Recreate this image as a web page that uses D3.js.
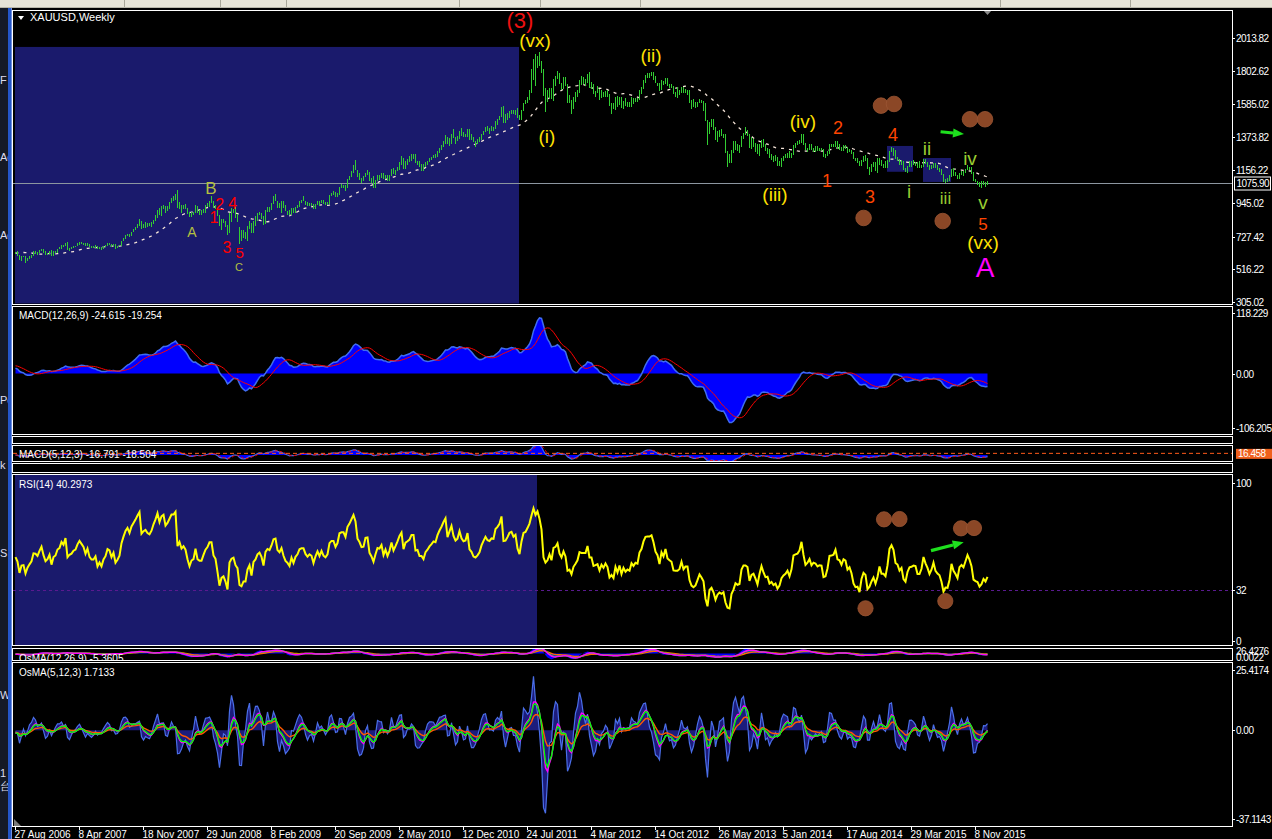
<!DOCTYPE html>
<html><head><meta charset="utf-8">
<script src="https://cdn.jsdelivr.net/npm/d3@7"></script>
<style>
html,body{margin:0;padding:0;background:#000;overflow:hidden}
svg{display:block}
text{font-family:"Liberation Sans",Arial,sans-serif}
</style></head><body>
<svg id="c" width="1272" height="839"></svg>
<script>
// ---------------- DATA ----------------
// weekly closes before the first visible bar (Jan–Aug 2006), used only for indicator warm-up
const priorCloses = [540,550,558,568,566,553,552,555,563,545,555,560,582,590,598,622,637,676,715,660,652,640,625,571,582,614,629,667,640,630,640,628,618,618];
// weekly bars [low, high, close], first bar = week of 27 Aug 2006
const bars2006 = [[616,630,624],[605,632,612],[575,612,578],[572,603,598],[595,605,599],[560,600,573],[568,592,588],[585,605,597],[590,610,605],[605,632,628],[615,632,627],[612,630,622],[620,640,636],[635,650,648],[625,650,630],[612,632,616],[612,625,621],[618,636,632]];
const bars2007 = [[605,640,609],[603,632,628],[620,635,632],[625,650,648],[645,660,652],[650,672,670],[660,675,665],[665,690,685],[640,692,645],[635,655,652],
[645,660,655],[655,670,663],[660,670,666],[665,685,680],[675,695,690],[680,695,685],[675,690,680],[665,685,668],[665,685,680],[660,680,665],
[655,670,660],[655,668,660],[655,672,666],[645,668,648],[645,660,655],[640,658,648],[648,665,660],[660,672,666],[665,685,680],[675,690,678],
[660,678,668],[665,680,676],[645,680,660],[655,670,665],[668,675,672],[670,700,698],[700,720,715],[710,740,732],[730,745,742],[725,745,735],
[730,760,757],[755,775,770],[768,790,785],[785,812,805],[800,845,825],[780,830,790],[785,810,800],[785,820,805],[790,815,800],[795,815,798],
[792,820,810],[810,835,835],[830,870,858]];
const bars2008 = [[850,900,895],[870,915,880],[860,925,915],[905,930,925],[880,925,905],[895,925,920],[905,955,945],[945,975,975],[960,990,975],[965,1003,995],
[915,1032,915],[905,950,935],[880,935,915],[905,935,925],[905,940,915],[875,915,885],[855,890,860],[855,885,880],[870,890,885],[880,935,925],
[880,925,890],[865,900,885],[870,900,885],[880,910,905],[880,930,925],[920,945,935],[920,960,955],[945,990,955],[915,960,920],[905,935,910],
[860,915,865],[795,865,800],[770,840,825],[815,840,830],[790,830,805],[740,805,760],[750,880,865],[825,915,885],[880,910,890],[850,920,855],
[820,875,840],[681,790,735],[700,770,725],[720,770,745],[710,760,745],[700,800,795],[780,830,815],[750,815,755],[750,830,825],[800,860,840],
[830,880,870],[865,885,880]];
const bars2009 = [[845,880,860],[805,860,815],[810,900,895],[890,920,915],[890,920,910],[900,945,940],[940,990,985],[960,1005,990],[915,960,940],[915,945,930],
[880,960,955],[915,960,920],[895,935,895],[865,895,885],[870,900,870],[865,915,910],[880,915,885],[880,920,915],[915,935,928],[920,960,955],
[945,965,960],[960,990,960],[935,960,940],[925,950,930],[925,945,940],[925,945,935],[905,940,910],[910,940,935],[935,960,955],[925,960,940],
[945,965,960],[940,965,945],[930,955,940],[935,955,950],[940,1000,995],[990,1010,1005],[995,1025,1005],[985,1020,990],[985,1010,1005],[1000,1050,1050],
[1040,1070,1055],[1040,1065,1055],[1025,1065,1045],[1040,1100,1095],[1095,1120,1115],[1115,1150,1145],[1140,1195,1180],[1160,1226,1165],[1115,1160,1120],[1095,1140,1110],
[1075,1110,1095],[1090,1120,1097]];
const bars2010 = [[1115,1140,1138],[1125,1160,1140],[1090,1145,1095],[1075,1110,1083],[1045,1120,1065],[1045,1095,1093],[1085,1125,1120],[1095,1125,1118],[1110,1140,1133],[1100,1140,1103],
[1100,1130,1125],[1085,1130,1105],[1090,1130,1125],[1120,1165,1162],[1135,1170,1137],[1125,1160,1157],[1150,1180,1180],[1160,1212,1210],[1195,1250,1230],[1165,1235,1177],
[1165,1215,1212],[1195,1230,1220],[1210,1250,1229],[1220,1262,1256],[1230,1265,1256],[1205,1262,1208],[1195,1215,1210],[1180,1215,1190],[1155,1200,1190],[1155,1200,1180],
[1180,1210,1205],[1195,1215,1215],[1210,1235,1228],[1225,1245,1237],[1235,1255,1248],[1240,1260,1246],[1245,1280,1275],[1270,1300,1297],[1290,1320,1317],[1310,1350,1345],
[1330,1385,1370],[1325,1375,1325],[1315,1365,1358],[1330,1395,1394],[1365,1424,1366],[1330,1375,1352],[1345,1380,1362],[1360,1410,1406],[1380,1430,1385],[1375,1405,1376],
[1370,1390,1380],[1375,1422,1420]];
const bars2011 = [[1355,1425,1369],[1355,1390,1360],[1340,1375,1343],[1310,1350,1340],[1330,1360,1348],[1340,1370,1360],[1355,1390,1388],[1385,1415,1409],[1405,1440,1429],[1415,1445,1420],
[1395,1430,1418],[1415,1445,1429],[1415,1440,1428],[1425,1475,1474],[1450,1490,1486],[1480,1510,1504],[1505,1570,1556],[1465,1575,1490],[1465,1520,1492],[1480,1530,1511],
[1495,1540,1536],[1525,1550,1542],[1520,1550,1529],[1515,1545,1539],[1495,1560,1501],[1480,1515,1483],[1480,1545,1542],[1540,1595,1594],[1585,1610,1601],[1595,1630,1628],
[1610,1675,1663],[1660,1815,1744],[1740,1880,1852],[1705,1912,1828],[1820,1895,1884],[1835,1921,1856],[1790,1865,1813],[1640,1810,1658],[1532,1690,1620],[1600,1680,1636],
[1625,1690,1682],[1620,1690,1642],[1605,1750,1745],[1700,1765,1755],[1750,1802,1788],[1715,1790,1724],[1680,1725,1696],[1685,1760,1746],[1700,1760,1712],[1595,1715,1598],
[1590,1645,1606],[1525,1615,1565]];
const bars2012 = [[1555,1630,1617],[1600,1665,1640],[1630,1680,1665],[1660,1740,1730],[1710,1765,1725],[1715,1760,1725],[1705,1750,1725],[1720,1780,1776],[1690,1792,1710],[1685,1730,1710],
[1650,1715,1658],[1630,1670,1662],[1655,1700,1668],[1610,1685,1630],[1625,1680,1660],[1630,1665,1642],[1630,1670,1664],[1635,1675,1645],[1575,1650,1580],[1525,1595,1592],
[1555,1595,1572],[1545,1630,1624],[1565,1640,1590],[1580,1630,1626],[1560,1630,1572],[1555,1605,1604],[1575,1625,1580],[1565,1600,1591],[1570,1600,1584],[1570,1630,1620],
[1585,1625,1606],[1600,1625,1621],[1600,1625,1617],[1615,1675,1671],[1650,1695,1691],[1685,1740,1738],[1720,1775,1770],[1755,1785,1772],[1755,1785,1772],[1765,1796,1780],
[1740,1795,1758],[1720,1765,1725],[1700,1725,1712],[1670,1720,1676],[1675,1740,1731],[1710,1735,1714],[1715,1755,1752],[1700,1755,1712],[1690,1715,1704],[1690,1715,1697],
[1650,1700,1657],[1635,1665,1656],[1625,1695,1656]];
const bars2013 = [[1645,1675,1662],[1655,1695,1687],[1655,1695,1658],[1655,1685,1667],[1645,1680,1667],[1595,1680,1610],[1555,1615,1581],[1565,1620,1572],[1560,1600,1577],[1565,1600,1592],
[1590,1620,1608],[1590,1615,1596],[1540,1605,1580],[1475,1590,1477],[1320,1480,1405],[1390,1470,1462],[1440,1490,1470],[1420,1487,1435],[1355,1440,1366],[1340,1415,1385],
[1370,1420,1393],[1380,1425,1383],[1365,1395,1388],[1270,1395,1296],[1180,1285,1234],[1205,1265,1223],[1205,1290,1277],[1270,1345,1295],[1290,1345,1322],[1285,1330,1310],
[1270,1320,1313],[1310,1380,1375],[1360,1400,1395],[1385,1435,1395],[1380,1420,1387],[1305,1390,1308],[1295,1370,1333],[1310,1360,1338],[1275,1335,1310],[1265,1330,1272],
[1250,1325,1315],[1300,1355,1352],[1310,1362,1315],[1280,1330,1286],[1260,1300,1288],[1240,1295,1244],[1225,1265,1250],[1210,1250,1230],[1220,1255,1235],[1185,1245,1203],
[1185,1220,1213],[1180,1240,1238]];
const bars2014 = [[1220,1250,1248],[1235,1260,1254],[1235,1270,1264],[1235,1280,1240],[1240,1270,1263],[1255,1320,1318],[1305,1335,1323],[1320,1345,1326],[1325,1355,1339],[1335,1390,1379],
[1320,1392,1335],[1290,1335,1294],[1275,1305,1303],[1290,1330,1318],[1290,1330,1293],[1275,1305,1303],[1275,1315,1300],[1285,1315,1289],[1285,1305,1293],[1285,1300,1292],
[1245,1295,1250],[1240,1260,1252],[1250,1280,1274],[1260,1325,1316],[1310,1325,1317],[1310,1330,1320],[1310,1345,1337],[1295,1345,1310],[1290,1325,1307],[1280,1310,1294],
[1285,1320,1310],[1295,1320,1306],[1270,1310,1280],[1275,1295,1286],[1260,1290,1268],[1230,1275,1231],[1215,1240,1215],[1205,1240,1216],[1185,1220,1192],[1185,1225,1222],
[1210,1250,1238],[1220,1255,1231],[1165,1235,1171],[1130,1180,1177],[1145,1200,1190],[1180,1210,1200],[1150,1210,1175],[1140,1240,1192],[1190,1240,1222],[1185,1225,1195],
[1170,1200,1195],[1170,1215,1186]];
const bars2015 = [[1170,1225,1216],[1210,1285,1277],[1275,1307,1293],[1250,1300,1279],[1230,1290,1234],[1215,1245,1228],[1195,1230,1204],[1195,1225,1213],[1160,1220,1165],[1145,1170,1152],
[1140,1185,1183],[1180,1220,1199],[1180,1220,1201],[1190,1225,1205],[1185,1210,1203],[1170,1210,1175],[1170,1215,1175],[1170,1195,1189],[1180,1230,1225],[1200,1232,1205],
[1180,1210,1190],[1160,1195,1168],[1165,1190,1180],[1170,1205,1201],[1170,1205,1173],[1160,1190,1163],[1145,1170,1157],[1130,1165,1132],[1080,1135,1085],[1077,1100,1095],
[1080,1105,1094],[1090,1125,1113],[1115,1165,1160],[1120,1170,1134],[1120,1145,1121],[1100,1125,1104],[1100,1140,1138],[1125,1155,1145],[1120,1150,1137],[1140,1165,1156],
[1160,1191,1177],[1160,1180,1163],[1135,1180,1142],[1085,1145,1088],[1080,1100,1081],[1065,1090,1077],[1050,1080,1056],[1046,1090,1062],[1060,1090,1075],[1050,1080,1065],
[1065,1085,1076]];

const timeTickIdx = [0,32,64,96,128,160,192,224,256,288,320,352,384,416,448,480];
const timeTickLabels = ["27 Aug 2006","8 Apr 2007","18 Nov 2007","29 Jun 2008","8 Feb 2009","20 Sep 2009","2 May 2010","12 Dec 2010","24 Jul 2011","4 Mar 2012","14 Oct 2012","26 May 2013","5 Jan 2014","17 Aug 2014","29 Mar 2015","8 Nov 2015"];
const priceTicks = [2013.82,1802.62,1585.02,1373.82,1156.22,945.02,727.42,516.22,305.02];
const priceTickLabels = ["2013.82","1802.62","1585.02","1373.82","1156.22","945.02","727.42","516.22","305.02"];
const lastPrice = 1075.90;
const macdTicks = [118.229, 0, -106.205];
const macdTickLabels = ["118.229","0.00","-106.205"];
const rsiTicks = [100, 32, 0];
const osmaTicks = [25.4174, 0, -37.1143];
const osmaTickLabels = ["25.4174","0.00","-37.1143"];
const macd5Level = 16.458;

// annotations, in data coordinates (week index, price / RSI value)
const waveLabels = [
 {t:"(3)",i:252.5,p:2078,c:"#ee1111",s:22},
 {t:"(vx)",i:260,p:1956,c:"#ffe000",s:19},
 {t:"(i)",i:266,p:1334,c:"#ffe000",s:19},
 {t:"(ii)",i:318,p:1858,c:"#ffe000",s:19},
 {t:"(iii)",i:380,p:959,c:"#ffe000",s:19},
 {t:"(iv)",i:394,p:1431,c:"#ffe000",s:19},
 {t:"(vx)",i:484,p:648,c:"#ffe000",s:19},
 {t:"A",i:485,p:467,c:"#ff00ff",s:28},
 {t:"1",i:406,p:1049,c:"#ff4500",s:18},
 {t:"2",i:411.5,p:1392,c:"#ff4500",s:18},
 {t:"3",i:427.5,p:946,c:"#ff4500",s:18},
 {t:"4",i:439,p:1347,c:"#ff4500",s:18},
 {t:"5",i:484,p:772,c:"#ff4500",s:17},
 {t:"i",i:447,p:978,c:"#9acd32",s:19},
 {t:"ii",i:456,p:1256,c:"#9acd32",s:19},
 {t:"iii",i:465.25,p:939,c:"#9acd32",s:17},
 {t:"iv",i:477.5,p:1192,c:"#9acd32",s:19},
 {t:"v",i:484,p:907,c:"#9acd32",s:19},
 {t:"B",i:98,p:1004,c:"#b4c040",s:17},
 {t:"A",i:88.5,p:726,c:"#b4c040",s:14},
 {t:"C",i:112,p:505,c:"#b4c040",s:11},
 {t:"1",i:99.5,p:816,c:"#ff0000",s:16},
 {t:"2",i:102.3,p:900,c:"#ff0000",s:16},
 {t:"3",i:106,p:622,c:"#ff0000",s:16},
 {t:"4",i:108.8,p:907,c:"#ff0000",s:16},
 {t:"5",i:112.3,p:590,c:"#ff0000",s:15}
];
const mainZones = [{i0:0,i1:252,p0:250,p1:1956},{i0:436,i1:449,p0:1148,p1:1315},{i0:454,i1:468,p0:1082,p1:1237}];
const rsiZones = [{i0:0,i1:261}];
const mainCircles = [{i:433,p:1576},{i:439.5,p:1587},{i:477.5,p:1488},{i:485,p:1488},{i:424.3,p:849},{i:463.85,p:829}];
const rsiCircles = [{i:434.5,v:77.0},{i:442.25,v:77.2},{i:473,v:71.3},{i:479.5,v:71.5},{i:425.25,v:20.7},{i:465.15,v:25.3}];
const mainArrow = {i0:462.8,p0:1407,i1:474.5,p1:1392};
const rsiArrow = {i0:458,v0:57.2,i1:474.35,v1:62.5};

// ---------------- SETUP ----------------
const bars = [].concat(bars2006,bars2007,bars2008,bars2009,bars2010,bars2011,bars2012,bars2013,bars2014,bars2015);
const closes = bars.map(b=>b[2]);
const allC = priorCloses.concat(closes);
const P = priorCloses.length;
const N = bars.length;

function ema(a,n){const k=2/(n+1);const o=[];let p=a[0];a.forEach((v,i)=>{p=i===0?v:v*k+p*(1-k);o.push(p);});return o;}
function sma(a,n){const o=[];for(let i=0;i<a.length;i++){const s0=Math.max(0,i-n+1);let s=0;for(let j=s0;j<=i;j++)s+=a[j];o.push(s/(i-s0+1));}return o;}
function rsi(c,n){const o=new Array(c.length).fill(50);let g=0,l=0;for(let i=1;i<=n;i++){const d=c[i]-c[i-1];if(d>0)g+=d;else l-=d;}g/=n;l/=n;o[n]=100-100/(1+g/l);
 for(let i=n+1;i<c.length;i++){const d=c[i]-c[i-1];g=(g*(n-1)+Math.max(d,0))/n;l=(l*(n-1)+Math.max(-d,0))/n;o[i]=l===0?100:100-100/(1+g/l);}return o;}
function macd(c,f,s,sg){const ef=ema(c,f),es=ema(c,s);const m=ef.map((v,i)=>v-es[i]);const sig=sma(m,sg);return {m,sig,os:m.map((v,i)=>v-sig[i])};}

const ma26 = sma(allC,26).slice(P);
const M1 = macd(allC,12,26,9);
const macdMain = M1.m.slice(P), macdSig = M1.sig.slice(P), osma12 = M1.os.slice(P);
const M2 = macd(allC,5,12,3);
const macd5Main = M2.m.slice(P), macd5Sig = M2.sig.slice(P), osma5 = M2.os.slice(P);
const rsi14 = rsi(allC,14).slice(P);
const os5a = ema(M2.os,6).slice(P), os5b = ema(M2.os,7).slice(P), os5c = ema(M2.os,16).slice(P);
const os12a = ema(M1.os,6).slice(P), os12b = ema(M1.os,7).slice(P), os12c = ema(M1.os,16).slice(P);
const idx = d3.range(N);

const svg = d3.select("#c");
const W=1272,H=839;
svg.append("rect").attr("width",W).attr("height",H).attr("fill","#000");
const defs = svg.append("defs");

const x = d3.scaleLinear().domain([0,608.5]).range([15,1232]);
const yMain = d3.scaleLinear().domain([305.02,2013.82]).range([302,38]);
const yMacd = d3.scaleLinear().domain([-106.205,118.229]).range([428,313]);
const yMacd5 = d3.scaleLinear().domain([-110,110]).range([466,444]);
const yRsi = d3.scaleLinear().domain([0,100]).range([641,483]);
const yOs12 = d3.scaleLinear().domain([-36,26]).range([660,649]);
const yOs5 = d3.scaleLinear().domain([-37.1143,25.4174]).range([818.5,670]);

const panels = [
 {id:"main",top:10.5,bottom:304.5},{id:"macd",top:306.5,bottom:434.5},{id:"e1",top:436.5,bottom:443.5},
 {id:"macd5",top:445.5,bottom:461.5},{id:"e2",top:463.5,bottom:472.5},{id:"rsi",top:474.5,bottom:645.5},
 {id:"os12",top:648.5,bottom:660.5},{id:"os5",top:662.5,bottom:826.5}];
const G = {};
panels.forEach(p=>{
 defs.append("clipPath").attr("id","cl-"+p.id).append("rect").attr("x",13).attr("y",p.top+0.5).attr("width",1219).attr("height",p.bottom-p.top-1);
 G[p.id] = svg.append("g").attr("clip-path",`url(#cl-${p.id})`);
});
const NAVY = "#1a1a6c";

// ---- main panel ----
const gm = G.main;
gm.selectAll("rect.zone").data(mainZones).join("rect").attr("class","zone")
 .attr("x",d=>x(d.i0)).attr("width",d=>x(d.i1)-x(d.i0))
 .attr("y",d=>yMain(d.p1)).attr("height",d=>Math.min(303.5,yMain(d.p0))-yMain(d.p1)).attr("fill",NAVY);
gm.append("line").attr("x1",13).attr("x2",1232).attr("y1",Math.round(yMain(lastPrice))+0.5).attr("y2",Math.round(yMain(lastPrice))+0.5)
 .attr("stroke","#8c96a0").attr("stroke-width",1);
gm.append("path").datum(idx).attr("fill","none").attr("stroke","#f4e4d8").attr("stroke-width",1.3).attr("stroke-dasharray","3,5")
 .attr("d",d3.line().x(i=>x(i)+0.5).y(i=>yMain(ma26[i])));
gm.selectAll("line.bar").data(bars).join("line").attr("class","bar")
 .attr("x1",(d,i)=>x(i)+0.5).attr("x2",(d,i)=>x(i)+0.5)
 .attr("y1",d=>yMain(d[1])).attr("y2",d=>Math.max(yMain(d[0]),yMain(d[1])+1.5))
 .attr("stroke","#32cd32").attr("stroke-width",1).attr("shape-rendering","crispEdges");
gm.selectAll("text.wave").data(waveLabels).join("text").attr("class","wave")
 .attr("x",d=>x(d.i)).attr("y",d=>yMain(d.p)).attr("text-anchor","middle")
 .attr("fill",d=>d.c).attr("font-size",d=>d.s+"px").text(d=>d.t);
gm.selectAll("circle").data(mainCircles).join("circle")
 .attr("cx",d=>x(d.i)).attr("cy",d=>yMain(d.p)).attr("r",7.8)
 .attr("fill","#8b4726").attr("stroke","#9a5533").attr("stroke-width",0.8);

function arrow(g,x1,y1,x2,y2){
 const a=Math.atan2(y2-y1,x2-x1),hl=11,hw=4.5;
 const bx=x2-hl*Math.cos(a),by=y2-hl*Math.sin(a);
 g.append("line").attr("x1",x1).attr("y1",y1).attr("x2",bx).attr("y2",by).attr("stroke","#1ee01e").attr("stroke-width",3.2);
 g.append("polygon").attr("points",[[x2,y2],[bx+hw*Math.sin(a),by-hw*Math.cos(a)],[bx-hw*Math.sin(a),by+hw*Math.cos(a)]].map(p=>p.join(",")).join(" "))
  .attr("fill","#1ee01e");
}
arrow(gm,x(mainArrow.i0),yMain(mainArrow.p0),x(mainArrow.i1),yMain(mainArrow.p1));

// ---- MACD(12,26,9) ----
const gmc = G.macd;
gmc.append("path").datum(idx).attr("fill","#0000ff")
 .attr("d",d3.area().x(i=>x(i)+0.5).y0(yMacd(0)).y1(i=>yMacd(macdMain[i])));
gmc.append("path").datum(idx).attr("fill","none").attr("stroke","#3f6cf0").attr("stroke-width",1.5)
 .attr("d",d3.line().x(i=>x(i)+0.5).y(i=>yMacd(macdMain[i])));
gmc.append("path").datum(idx).attr("fill","none").attr("stroke","#ff0000").attr("stroke-width",1)
 .attr("d",d3.line().x(i=>x(i)+0.5).y(i=>yMacd(macdSig[i])));

// ---- MACD(5,12,3) ----
const gm5 = G.macd5;
gm5.append("path").datum(idx).attr("fill","#0000ff")
 .attr("d",d3.area().x(i=>x(i)+0.5).y0(yMacd5(0)).y1(i=>yMacd5(macd5Main[i])));
gm5.append("path").datum(idx).attr("fill","none").attr("stroke","#3f6cf0").attr("stroke-width",1.2)
 .attr("d",d3.line().x(i=>x(i)+0.5).y(i=>yMacd5(macd5Main[i])));
gm5.append("path").datum(idx).attr("fill","none").attr("stroke","#ff0000").attr("stroke-width",1).attr("stroke-dasharray","3,2")
 .attr("d",d3.line().x(i=>x(i)+0.5).y(i=>yMacd5(macd5Sig[i])));
gm5.append("line").attr("x1",13).attr("x2",1232).attr("y1",yMacd5(macd5Level)).attr("y2",yMacd5(macd5Level))
 .attr("stroke","#ff5a1a").attr("stroke-dasharray","4,3");

// ---- RSI ----
const gr = G.rsi;
gr.selectAll("rect.zone").data(rsiZones).join("rect").attr("class","zone")
 .attr("x",d=>x(d.i0)).attr("width",d=>x(d.i1)-x(d.i0)).attr("y",475).attr("height",170).attr("fill",NAVY);
gr.append("line").attr("x1",13).attr("x2",1232).attr("y1",Math.round(yRsi(32))+0.5).attr("y2",Math.round(yRsi(32))+0.5)
 .attr("stroke","#5a1a90").attr("stroke-dasharray","3,3");
gr.append("path").datum(idx).attr("fill","none").attr("stroke","#ffff00").attr("stroke-width",2)
 .attr("d",d3.line().x(i=>x(i)+0.5).y(i=>yRsi(rsi14[i])));
gr.selectAll("circle").data(rsiCircles).join("circle")
 .attr("cx",d=>x(d.i)).attr("cy",d=>yRsi(d.v)).attr("r",7.6)
 .attr("fill","#8b4726").attr("stroke","#9a5533").attr("stroke-width",0.8);
arrow(gr,x(rsiArrow.i0),yRsi(rsiArrow.v0),x(rsiArrow.i1),yRsi(rsiArrow.v1));

// ---- OsMA(12,26,9) (collapsed) ----
const g12 = G.os12;
g12.append("path").datum(idx).attr("fill","#0000ff").attr("d",d3.area().x(i=>x(i)+0.5).y0(yOs12(0)).y1(i=>yOs12(osma12[i])));
[[os12c,"#ff6a00"],[os12b,"#00ff00"],[os12a,"#ff00ff"]].forEach(([s,c])=>{
 g12.append("path").datum(idx).attr("fill","none").attr("stroke",c).attr("stroke-width",1.5)
  .attr("d",d3.line().x(i=>x(i)+0.5).y(i=>yOs12(s[i])));
});

// ---- OsMA(5,12,3) ----
const g5 = G.os5;
g5.append("path").datum(idx).attr("fill","#1c1c7c")
 .attr("d",d3.area().x(i=>x(i)+0.5).y0(yOs5(0)).y1(i=>yOs5(osma5[i])));
g5.append("path").datum(idx).attr("fill","none").attr("stroke","#4a6ee8").attr("stroke-width",1.2)
 .attr("d",d3.line().x(i=>x(i)+0.5).y(i=>yOs5(osma5[i])));
[[os5c,"#ff5a00"],[os5a,"#ff00ff"],[os5b,"#00ff00"]].forEach(([s,c])=>{
 g5.append("path").datum(idx).attr("fill","none").attr("stroke",c).attr("stroke-width",1.4)
  .attr("d",d3.line().x(i=>x(i)+0.5).y(i=>yOs5(s[i])));
});
g5.append("path").attr("d","M14,826 L14,819 L21,826 Z").attr("fill","#7a7a7a");

// ---- indicator titles ----
const titles = [
 {t:"MACD(12,26,9) -24.615 -19.254",g:"macd",y:319},
 {t:"MACD(5,12,3) -16.791 -18.504",g:"macd5",y:458},
 {t:"RSI(14) 40.2973",g:"rsi",y:488},
 {t:"OsMA(12,26,9) -5.3605",g:"os12",y:662},
 {t:"OsMA(5,12,3) 1.7133",g:"os5",y:676}];
titles.forEach(d=>G[d.g].append("text").attr("x",19).attr("y",d.y).attr("fill","#fff").attr("font-size","10px").text(d.t));
G.main.append("path").attr("d","M18,16 L24,16 L21,20 Z").attr("fill","#fff");
G.main.append("text").attr("x",30).attr("y",21).attr("fill","#fff").attr("font-size","11px").text("XAUUSD,Weekly");
svg.append("path").attr("d","M983,10 L992,10 L987.5,15 Z").attr("fill","#8a8a8a");

// ---- panel borders ----
svg.selectAll("rect.pb").data(panels).join("rect").attr("class","pb")
 .attr("x",12.5).attr("y",d=>d.top).attr("width",1220).attr("height",d=>d.bottom-d.top)
 .attr("fill","none").attr("stroke","#fff").attr("stroke-width",1);

// ---- right axes ----
const ax = svg.append("g").attr("font-size","10px").attr("fill","#fff").attr("letter-spacing","-0.5px");
function rightAxis(vals,labels,scale){
 vals.forEach((v,k)=>{
  const yy=Math.round(scale(v))+0.5;
  ax.append("line").attr("x1",1232).attr("x2",1235).attr("y1",yy).attr("y2",yy).attr("stroke","#fff");
  ax.append("text").attr("x",1236).attr("y",yy).attr("dy","0.35em").text(labels[k]);
 });
}
rightAxis(priceTicks,priceTickLabels,yMain);
rightAxis(macdTicks,macdTickLabels,yMacd);
rightAxis(rsiTicks,rsiTicks.map(String),yRsi);
rightAxis(osmaTicks,osmaTickLabels,yOs5);
// last price marker
const lp = Math.round(yMain(lastPrice))+0.5;
ax.append("rect").attr("x",1234.5).attr("y",lp-6.5).attr("width",36).attr("height",13).attr("fill","#000").attr("stroke","#fff");
ax.append("text").attr("x",1236.5).attr("y",lp).attr("dy","0.35em").text(lastPrice.toFixed(2));
// macd5 level marker
const ml = yMacd5(macd5Level);
ax.append("rect").attr("x",1236).attr("y",ml-4.5).attr("width",36).attr("height",10).attr("fill","#f0601c");
ax.append("text").attr("x",1238).attr("y",ml+0.5).attr("dy","0.35em").attr("fill","#fff").text(macd5Level.toFixed(3));
// collapsed osma labels (overlapping in the original too)
ax.append("text").attr("x",1236).attr("y",651).attr("dy","0.35em").text("26.4276");
ax.append("text").attr("x",1236).attr("y",657).attr("dy","0.35em").text("0.0022");

// ---- time axis ----
const tx = svg.append("g").attr("font-size","10px").attr("fill","#fff");
timeTickIdx.forEach((ti,k)=>{
 const xx = Math.round(x(ti))+0.5;
 tx.append("line").attr("x1",xx).attr("x2",xx).attr("y1",826.5).attr("y2",830).attr("stroke","#fff");
 tx.append("text").attr("x",xx-1).attr("y",838).text(timeTickLabels[k]);
});

// ---- window chrome ----
svg.append("rect").attr("x",0).attr("y",0).attr("width",W).attr("height",8).attr("fill","#e6e3d6");
[124,220,286,459,540,640,1000,1130].forEach(v=>svg.append("line").attr("x1",v+0.5).attr("x2",v+0.5).attr("y1",0).attr("y2",7).attr("stroke","#a8a698"));
svg.append("line").attr("x1",0).attr("x2",W).attr("y1",7.5).attr("y2",7.5).attr("stroke","#b8b6a8");
svg.append("rect").attr("x",0).attr("y",8).attr("width",8).attr("height",H-8).attr("fill","#151a26");
svg.append("rect").attr("x",8).attr("y",8).attr("width",3).attr("height",H-8).attr("fill","#2456c8");
svg.append("rect").attr("x",11).attr("y",8).attr("width",1).attr("height",H-8).attr("fill","#6f8fe0");
defs.append("clipPath").attr("id","cl-left").append("rect").attr("x",0).attr("y",8).attr("width",8).attr("height",H);
const lg = svg.append("g").attr("clip-path","url(#cl-left)").attr("fill","#dde").attr("font-size","11px");
[["F",84],["Ac",161],["Ac",239],["Pc",404],["k",469],["S",557],["W",699],["1",777],["台",790]].forEach(([t,yy])=>lg.append("text").attr("x",0).attr("y",yy).text(t));
</script>
</body></html>
